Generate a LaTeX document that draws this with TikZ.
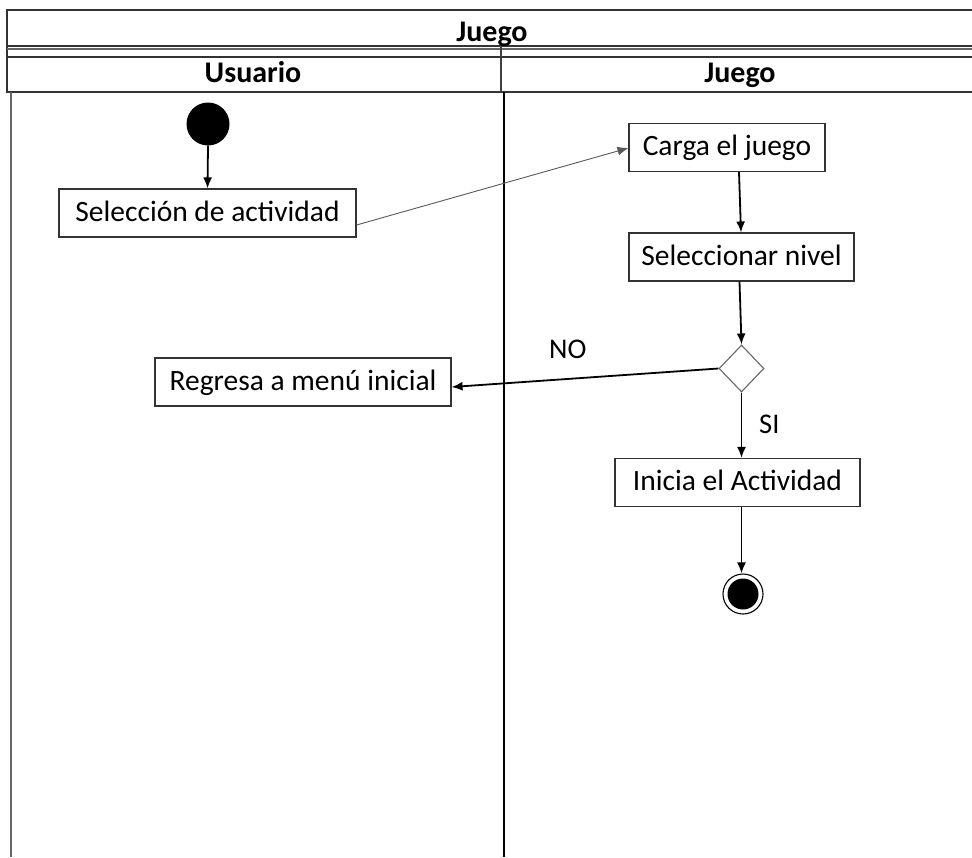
\documentclass[tikz,border=0pt]{standalone}
\usepackage{fontspec}
\setmainfont{Carlito}
\usetikzlibrary{arrows.meta,shapes.geometric}

\tikzset{
  frameline/.style={draw=black!80, line width=1.4pt},
  lanediv/.style={draw=black, line width=2.2pt},
  action/.style={draw=black!80, line width=1.1pt, fill=white, inner sep=0pt,
    minimum height=48pt, text height=20pt, text depth=4pt,
    font=\fontsize{29.5}{34}\selectfont},
  flow/.style={draw=black, line width=1.8pt, -{Latex[length=11pt,width=9pt]}},
  thinflow/.style={draw=black!65, line width=0.9pt, -{Latex[length=11pt,width=9pt]}},
  hdr/.style={font=\fontsize{30}{34}\selectfont\bfseries, inner sep=0pt, anchor=base},
  guard/.style={font=\fontsize{28.5}{32}\selectfont, inner sep=0pt, anchor=base west},
  decision/.style={diamond, draw=black!60, line width=1.1pt, fill=white,
    minimum width=45pt, minimum height=47pt, inner sep=0pt, aspect=1},
}

\begin{document}
\begin{tikzpicture}[x=1pt, y=-1pt]
  \useasboundingbox (0,0) rectangle (972,857);
  \fill[white] (0,0) rectangle (972,857);

  % swimlane frame
  \draw[frameline] (972,10) -- (7,10) -- (7,92) -- (972,92);
  \draw[frameline] (7,46) -- (972,46);
  \draw[frameline, draw=black!60] (7,49) -- (972,49);
  \draw[frameline] (7,57) -- (972,57);
  \draw[draw=black!75, line width=1.1pt] (501,46) -- (501,92);
  \draw[draw=black!60, line width=1.3pt] (11,92) -- (11,857);
  \draw[lanediv] (504,92) -- (504,857);

  % titles
  \node[hdr] (title) at (492,41) {Juego};
  \node[hdr] (laneU) at (253,82) {Usuario};
  \node[hdr] (laneJ) at (740,82) {Juego};

  % activity nodes
  \node[circle, fill=black, minimum size=43pt, inner sep=0pt] (start) at (208,124) {};
  \node[action, minimum width=297pt] (sel) at (207.5,213) {Selección de actividad};
  \node[action, minimum width=196pt] (carga) at (727,147.5) {Carga el juego};
  \node[action, minimum width=225pt] (nivel) at (741.5,257) {Seleccionar nivel};
  \node[decision] (dec) at (741.5,368.5) {};
  \node[action, minimum width=296pt] (regresa) at (303,382) {Regresa a menú inicial};
  \node[action, minimum width=245pt] (inicia) at (737.5,482.5) {Inicia el Actividad};
  \node[circle, draw=black, line width=1.1pt, fill=white, minimum size=40pt, inner sep=0pt] (fin) at (743,594) {};
  \node[circle, fill=black, minimum size=31pt, inner sep=0pt] (finin) at (fin.center) {};

  % guards
  \node[guard] (lblNO) at (549,358) {NO};
  \node[guard] (lblSI) at (759,433) {SI};

  % connectors
  \draw[flow] (start.south) -- (sel.north);
  \draw[thinflow] (sel.east |- 0,225) -- (carga.west |- 0,148);
  \draw[flow] ([xshift=12pt]carga.south) -- ([xshift=-0.5pt]nivel.north);
  \draw[flow] ([xshift=-2pt]nivel.south) -- (dec.north);
  \draw[flow] (dec.west) -- ([yshift=-5pt]regresa.east);
  \draw[flow] (dec.south) -- (inicia.north -| dec.south);
  \draw[flow] (inicia.south -| dec.south) -- (fin.north -| dec.south);
\end{tikzpicture}
\end{document}
